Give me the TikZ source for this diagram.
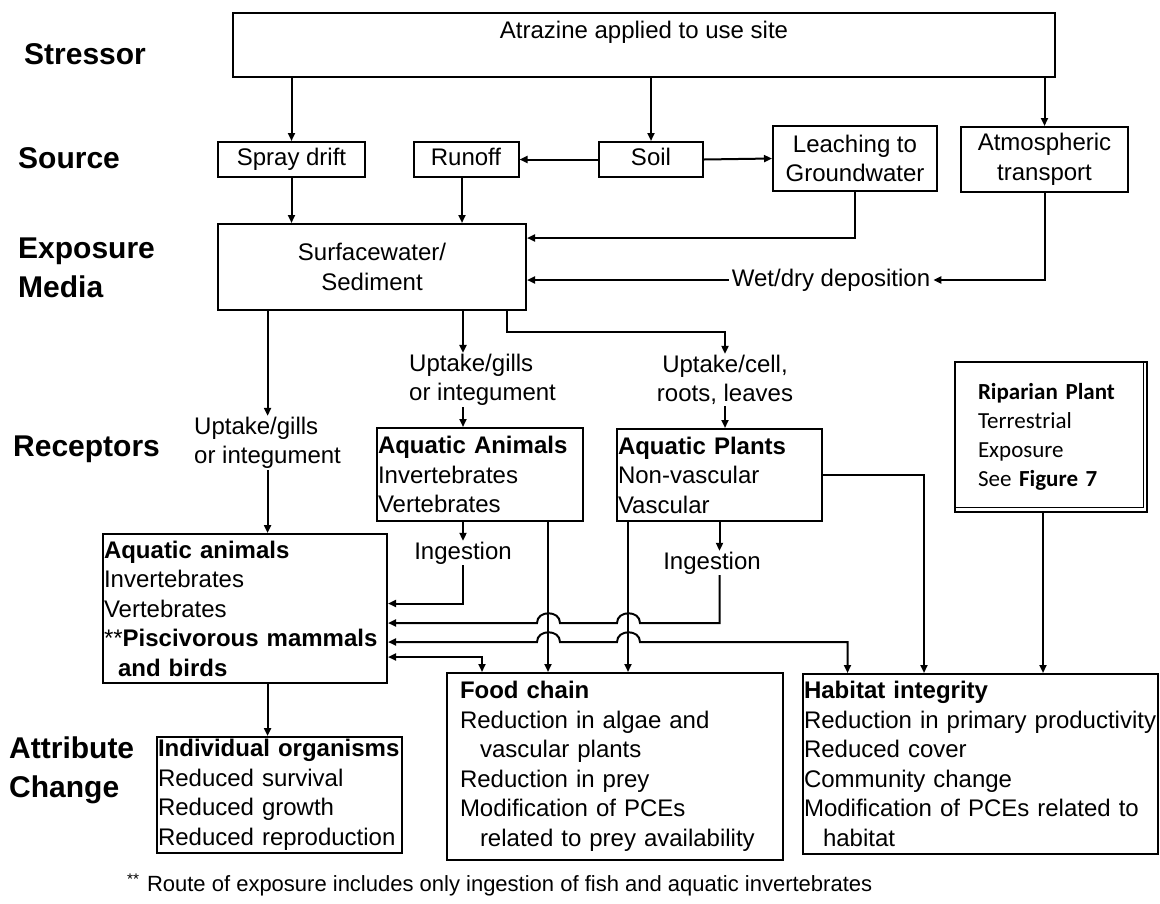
\documentclass[tikz,border=0pt]{standalone}
\usepackage{fontspec}
\setmainfont{Liberation Sans}
\newfontfamily\calibrifont{Carlito}
\usetikzlibrary{arrows.meta}
\newcommand{\boxfont}{\fontsize{24}{29.5}\selectfont}
\newcommand{\labfont}{\fontsize{30}{39}\selectfont\bfseries}
\newcommand{\notefont}{\fontsize{22}{26}\selectfont}
\newcommand{\ripfont}{\calibrifont\fontsize{23}{29}\selectfont}

\begin{document}
\begin{tikzpicture}[x=1pt,y=-1pt,
  box/.style={draw,line width=2pt,inner sep=0pt,font=\boxfont},
  onerow/.style={text height=17pt,text depth=5pt},
  tbox/.style={box,align=left,inner xsep=1pt},
  lab/.style={anchor=west,align=left,font=\labfont,inner sep=0pt},
  txt/.style={font=\boxfont,inner sep=1pt},
  arr/.style={-{Triangle[length=8pt,width=7pt]},line width=2pt},
  darr/.style={{Triangle[length=8pt,width=7pt]}-{Triangle[length=8pt,width=7pt]},line width=2pt}]

\path[use as bounding box,fill=white] (0,0) rectangle (1160,903);

% Level labels
\node[lab] (lstressor) at (24,54) {Stressor};
\node[lab] (lsource) at (18,158) {Source};
\node[lab] (lmedia) at (18,268) {Exposure\\Media};
\node[lab] (lreceptor) at (13,449) {Receptors};
\node[lab] (lchange) at (9,770) {Attribute\\Change};

% Stressor
\node[box,minimum width=822pt,minimum height=64pt,text height=25pt,text depth=39pt] (stressor) at (644,45) {Atrazine applied to use site};

% Sources
\node[box,onerow,minimum width=147pt,minimum height=35pt] (spray) at (291.5,159.5) {Spray drift};
\node[box,onerow,minimum width=105pt,minimum height=35pt] (runoff) at (466,159.5) {Runoff};
\node[box,onerow,minimum width=104pt,minimum height=35pt] (soil) at (651,159.5) {Soil};
\node[box,align=center,minimum width=164pt,minimum height=65pt] (leach) at (855,158.5) {Leaching to\\Groundwater};
\node[box,align=center,minimum width=167pt,minimum height=65pt] (atmos) at (1044.5,159.5) {Atmospheric\\transport};

% Exposure media
\node[box,align=center,minimum width=308pt,minimum height=86pt] (surface) at (372,267) {Surfacewater/\\Sediment};
\node[txt,onerow,inner xsep=3pt] (wetdry) at (831,280) {Wet/dry deposition};

% Routes and receptors
\node[txt,anchor=west,align=left] (uptake1) at (193,443) {Uptake/gills\\or integument};
\node[txt,anchor=west,align=left] (uptake2) at (408,380) {Uptake/gills\\or integument};
\node[txt,align=center] (uptake3) at (725,380) {Uptake/cell,\\roots, leaves};
\node[tbox,text width=204pt,minimum height=93pt] (aanimals) at (480,474.5) {\textbf{Aquatic Animals}\\Invertebrates\\Vertebrates};
\node[tbox,text width=203pt,minimum height=92pt] (aplants) at (719.5,475) {\textbf{Aquatic Plants}\\Non-vascular\\Vascular};
\node[txt,onerow] (ingest1) at (463,553) {Ingestion};
\node[txt,onerow] (ingest2) at (712,563) {Ingestion};
\node[box,align=left,inner xsep=23pt,text width=146pt,minimum height=150pt,font=\ripfont] (riparian) at (1051,437) {\textbf{Riparian Plant}\\Terrestrial\\Exposure\\See \textbf{Figure 7}};
\node[tbox,text width=282pt,minimum height=149pt] (animals2) at (245,608.5) {\textbf{Aquatic animals}\\Invertebrates\\Vertebrates\\{**}\textbf{Piscivorous mammals}\\\hspace*{14pt}\textbf{and birds}};

% Attribute change
\node[tbox,text width=243pt,minimum height=116pt] (individual) at (279.5,795) {\textbf{Individual organisms}\\Reduced survival\\Reduced growth\\Reduced reproduction};
\node[box,align=left,inner xsep=13pt,text width=310pt,minimum height=187pt] (foodchain) at (615,766.5) {\textbf{Food chain}\\Reduction in algae and\\\hspace*{20pt}vascular plants\\Reduction in prey\\Modification of PCEs\\\hspace*{20pt}related to prey availability};
\node[tbox,text width=353pt,minimum height=180pt] (habitat) at (980.5,764) {\textbf{Habitat integrity}\\Reduction in primary productivity\\Reduced cover\\Community change\\Modification of PCEs related to\\\hspace*{19pt}habitat};

% Footnote
\node[anchor=west,font=\notefont,inner sep=0pt] (note) at (127,885) {\textsuperscript{**}\,\,Route of exposure includes only ingestion of fish and aquatic invertebrates};

% Riparian box shadow line
\draw[line width=0.8pt] ([shift={(-5pt,-2pt)}]riparian.north east) |- ([shift={(2pt,6pt)}]riparian.south west);

% Arrows
\draw[arr] (stressor.south -| spray.north) -- (spray.north);
\draw[arr] (stressor.south -| soil.north) -- (soil.north);
\draw[arr] (stressor.south -| atmos.north) -- (atmos.north);
\draw[arr] (soil.west) -- (runoff.east);
\draw[arr] (soil.east) -- (leach.west);
\draw[arr] (spray.south) -- (spray.south |- surface.north);
\draw[arr] ([xshift=-4pt]runoff.south) -- ([xshift=-4pt]runoff.south |- surface.north);
\draw[arr] (leach.south) |- ([yshift=29pt]surface.east);
\draw[arr] (atmos.south) |- (wetdry.east);
\draw[arr] (wetdry.west) -- (wetdry.west -| surface.east);
\draw[arr] (uptake1.north |- surface.south) -- (uptake1.north);
\draw[arr] (uptake1.south) -- (uptake1.south |- animals2.north);
\draw[arr] (ingest1.north |- surface.south) -- (ingest1.north |- uptake2.north);
\draw[arr] (ingest1.north |- uptake2.south) -- (ingest1.north |- aanimals.north);
\draw[arr] ([xshift=135pt]surface.south) -- ++(0,21) -| (uptake3.north);
\draw[arr] (uptake3.south) -- (uptake3.south |- aplants.north);
\draw[arr] (ingest1.north |- aanimals.south) -- (ingest1.north);
\draw[arr] (aplants.south) -- (aplants.south |- ingest2.north);
\draw[arr] ([xshift=68pt]aanimals.south) -- ([xshift=68pt]aanimals.south |- foodchain.north);
\draw[arr] ([xshift=-91.5pt]aplants.south) -- ([xshift=-91.5pt]aplants.south |- foodchain.north);
\draw[arr] (ingest1.south) |- ([yshift=5pt]animals2.east);
\draw[arr] (aplants.south |- ingest2.south) |- (640,623) .. controls (640,610) and (617,610) .. (617,623) -- (560,623) .. controls (560,610) and (537,610) .. (537,623) -- ([yshift=-14.5pt]animals2.east);
\draw[darr] ([yshift=-33.5pt]animals2.east) -- (537,642) .. controls (537,629) and (560,629) .. (560,642) -- (617,642) .. controls (617,629) and (640,629) .. (640,642) -| ([xshift=-133pt]habitat.north);
\draw[darr] ([yshift=-48.5pt]animals2.east) -| ([xshift=-133pt]foodchain.north);
\draw[arr] (aplants.east) -| ([xshift=-56.5pt]habitat.north);
\draw[arr] ([xshift=-8pt]riparian.south) -- ([xshift=-8pt]riparian.south |- habitat.north);
\draw[arr] (uptake1.south |- animals2.south) -- (uptake1.south |- individual.north);

\end{tikzpicture}
\end{document}
